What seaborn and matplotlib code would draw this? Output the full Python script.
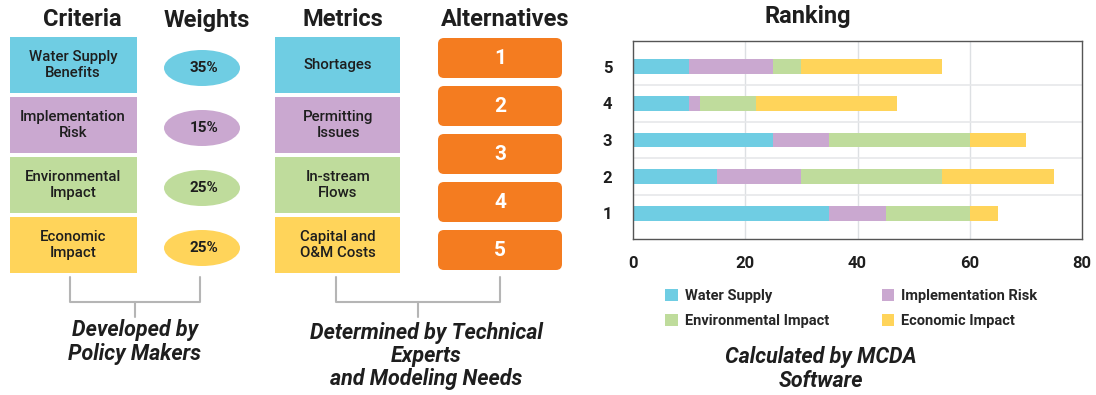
import numpy as np
import pandas as pd
import seaborn as sns
import matplotlib.pyplot as plt
from matplotlib.patches import Rectangle, Ellipse, FancyBboxPatch, Patch

# data
criteria = ["Water Supply\nBenefits", "Implementation\nRisk", "Environmental\nImpact", "Economic\nImpact"]
weights = ["35%", "15%", "25%", "25%"]
metrics = ["Shortages", "Permitting\nIssues", "In-stream\nFlows", "Capital and\nO&M Costs"]
alternatives = ["1", "2", "3", "4", "5"]
series = ["Water Supply", "Implementation Risk", "Environmental Impact", "Economic Impact"]
water_supply = [35, 15, 25, 10, 10]
implementation_risk = [10, 15, 10, 2, 15]
environmental_impact = [15, 25, 25, 10, 5]
economic_impact = [5, 20, 10, 25, 25]

colors = ["#6fcde3", "#caa8d0", "#bfdc9c", "#ffd45a"]
orange = "#f47c20"
ink = "#1e1e1e"

sns.set_theme(style="white")
plt.rcParams["font.family"] = ["Roboto", "DejaVu Sans"]

fig = plt.figure(figsize=(10.96, 3.95), dpi=100)

# diagram layer in pixel coordinates
d = fig.add_axes([0, 0, 1, 1])
d.set_xlim(0, 1096)
d.set_ylim(395, 0)
d.axis("off")

for x, t in [(82, "Criteria"), (207, "Weights"), (343, "Metrics"), (505, "Alternatives")]:
    d.text(x, 20, t, ha="center", va="center", fontsize=17, fontweight="bold", color=ink)

tops = [37, 97, 157, 217]
for i in range(4):
    y0 = tops[i]
    d.add_patch(Rectangle((10, y0), 127, 56, fc=colors[i], ec="none"))
    d.text(73, y0 + 28, criteria[i], ha="center", va="center", fontsize=10.8,
           fontweight="medium", color=ink, linespacing=1.1)
    d.add_patch(Ellipse((202, y0 + 31), 76, 36, fc=colors[i], ec="none"))
    d.text(204, y0 + 31, weights[i], ha="center", va="center", fontsize=11,
           fontweight="bold", color=ink)
    d.add_patch(Rectangle((275, y0), 125, 56, fc=colors[i], ec="none"))
    d.text(338, y0 + 28, metrics[i], ha="center", va="center", fontsize=10.8,
           fontweight="medium", color=ink, linespacing=1.1)

for i, a in enumerate(alternatives):
    y0 = 38 + i * 48
    d.add_patch(FancyBboxPatch((438, y0), 124, 40, boxstyle="round,pad=0,rounding_size=6",
                               fc=orange, ec="none"))
    d.text(500, y0 + 21, a, ha="center", va="center", fontsize=15, fontweight="bold",
           color="white")

# brackets
gray = "#b5b5b5"
for xl, xr in [(70, 200), (336, 500)]:
    d.plot([xl, xl, xr, xr], [277, 302, 302, 277], color=gray, lw=1.5)
    xm = (xl + xr) / 2
    d.plot([xm, xm], [302, 317], color=gray, lw=1.5)

cap = dict(ha="center", va="center", fontsize=15.5, fontweight="bold", style="italic",
           color=ink, linespacing=1.08)
d.text(135, 342, "Developed by\nPolicy Makers", **cap)
d.text(426, 356, "Determined by Technical\nExperts\nand Modeling Needs", **cap)
d.text(821, 369, "Calculated by MCDA\nSoftware", **cap)
d.text(808, 16, "Ranking", ha="center", va="center", fontsize=17, fontweight="bold", color=ink)

# stacked bar chart
ax = fig.add_axes([633 / 1096, 1 - 239 / 395, 449 / 1096, 198 / 395])
df = pd.DataFrame({"alt": alternatives, series[0]: water_supply, series[1]: implementation_risk,
                   series[2]: environmental_impact, series[3]: economic_impact})
cum = df[series].cumsum(axis=1)
order = alternatives[::-1]
for k in range(3, -1, -1):
    sns.barplot(x=cum[series[k]], y=df["alt"], order=order, orient="h", color=colors[k],
                width=0.4, saturation=1, ax=ax, linewidth=0)

ax.set_xlim(0, 80)
ax.set_ylim(4.7, -0.7)
ax.set_xticks([0, 20, 40, 60, 80])
ax.set_xlabel("")
ax.set_ylabel("")
for xv in [20, 40, 60]:
    ax.axvline(xv, color="#dde0e3", lw=1, zorder=0)
for yv in [0.5, 1.5, 2.5, 3.5]:
    ax.axhline(yv, color="#e6e8ea", lw=1.2, zorder=0)
ax.set_axisbelow(True)
for s in ax.spines.values():
    s.set_color("#555555")
    s.set_linewidth(1)
ax.tick_params(length=0, labelsize=12)
ax.tick_params(axis="x", pad=12)
ax.tick_params(axis="y", pad=15)
for lab in ax.get_xticklabels() + ax.get_yticklabels():
    lab.set_fontweight("bold")
    lab.set_color(ink)

# legend filled row by row like the reference
idx = [0, 2, 1, 3]
handles = [Patch(fc=colors[i], ec="none") for i in idx]
labels = [series[i] for i in idx]
fig.legend(handles, labels, loc="upper left", bbox_to_anchor=(652 / 1096, 1 - 276 / 395), ncol=2,
           frameon=False, prop={"weight": "bold", "size": 10.5}, handlelength=0.85,
           handleheight=0.85, columnspacing=3.6, handletextpad=0.5, labelspacing=0.75)

fig.savefig("out.png", dpi=100)
